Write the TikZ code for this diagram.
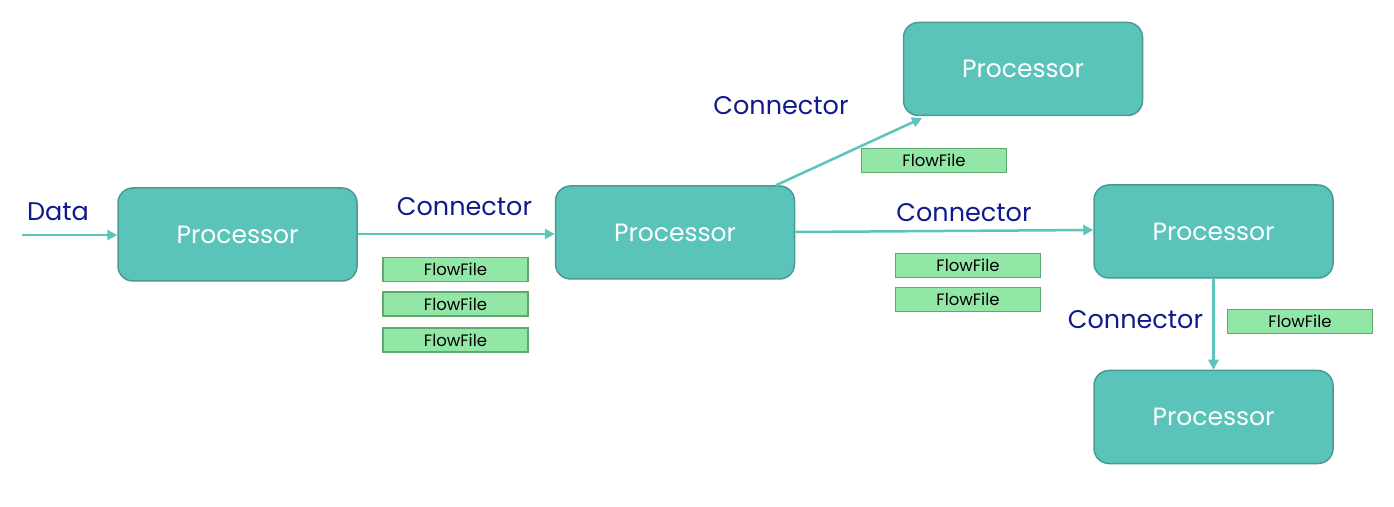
\documentclass[tikz,border=0pt]{standalone}
\usepackage{fontspec}
\setmainfont{Poppins}
\usetikzlibrary{arrows.meta}
\definecolor{procfill}{HTML}{5AC4BA}
\definecolor{procdraw}{HTML}{4A9A90}
\definecolor{arrowc}{HTML}{5BC5BB}
\definecolor{labelc}{HTML}{101A8C}
\definecolor{fffill}{HTML}{92E6A6}
\definecolor{ffdraw}{HTML}{5FA86F}
\tikzset{
  proc/.style={draw=procdraw, line width=1.5pt, fill=procfill, rounded corners=15pt,
    minimum width=239pt, minimum height=93pt, inner sep=0pt,
    text=white, font=\fontsize{25}{28}\selectfont},
  ff/.style={draw=ffdraw, line width=1.8pt, fill=fffill, minimum width=145pt,
    minimum height=24pt, inner sep=0pt, font=\fontsize{16.5}{18}\selectfont},
  lbl/.style={text=labelc, inner sep=0pt, font=\fontsize{25.5}{28}\selectfont},
  conn/.style={draw=arrowc, line width=2.5pt, -{Triangle[length=10pt,width=10pt]}}
}
\begin{document}
\begin{tikzpicture}[x=1pt,y=1pt]
\useasboundingbox (0,0) rectangle (1394,506);
% processors
\node[proc] (p1) at (237.5, 271.5) {Processor};
\node[proc] (p2) at (675, 273.5) {Processor};
\node[proc] (p3) at (1023, 437) {Processor};
\node[proc] (p4) at (1213.5, 274.5) {Processor};
\node[proc] (p5) at (1213.5, 89) {Processor};
% flowfiles
\node[ff] (f1) at (455.5, 236.5) {FlowFile};
\node[ff] (f2) at (455.5, 202) {FlowFile};
\node[ff] (f3) at (455.5, 166) {FlowFile};
\node[ff] (f4) at (934, 345.5) {FlowFile};
\node[ff] (f5) at (968, 240.5) {FlowFile};
\node[ff] (f6) at (968, 206.5) {FlowFile};
\node[ff] (f7) at (1300, 184.5) {FlowFile};
% labels
\node[lbl] (ldata) at (58, 294) {Data};
\node[lbl] (lc1) at (464.5, 299) {Connector};
\node[lbl] (lc2) at (781, 400) {Connector};
\node[lbl] (lc3) at (964, 293) {Connector};
\node[lbl] (lc4) at (1135.5, 186) {Connector};
% connectors
\coordinate (din) at (22, 271);
\draw[conn] (din) -- (din -| p1.west);
\draw[conn] (p1.east |- 0,272) -- (p2.west |- 0,272);
\draw[conn] (p2.north -| 776,0) -- (922, 388);
\draw[conn] (p2.east |- 0,274) -- (p4.west |- 0,276);
\draw[conn] (p4.south) -- (p5.north);
\end{tikzpicture}
\end{document}
